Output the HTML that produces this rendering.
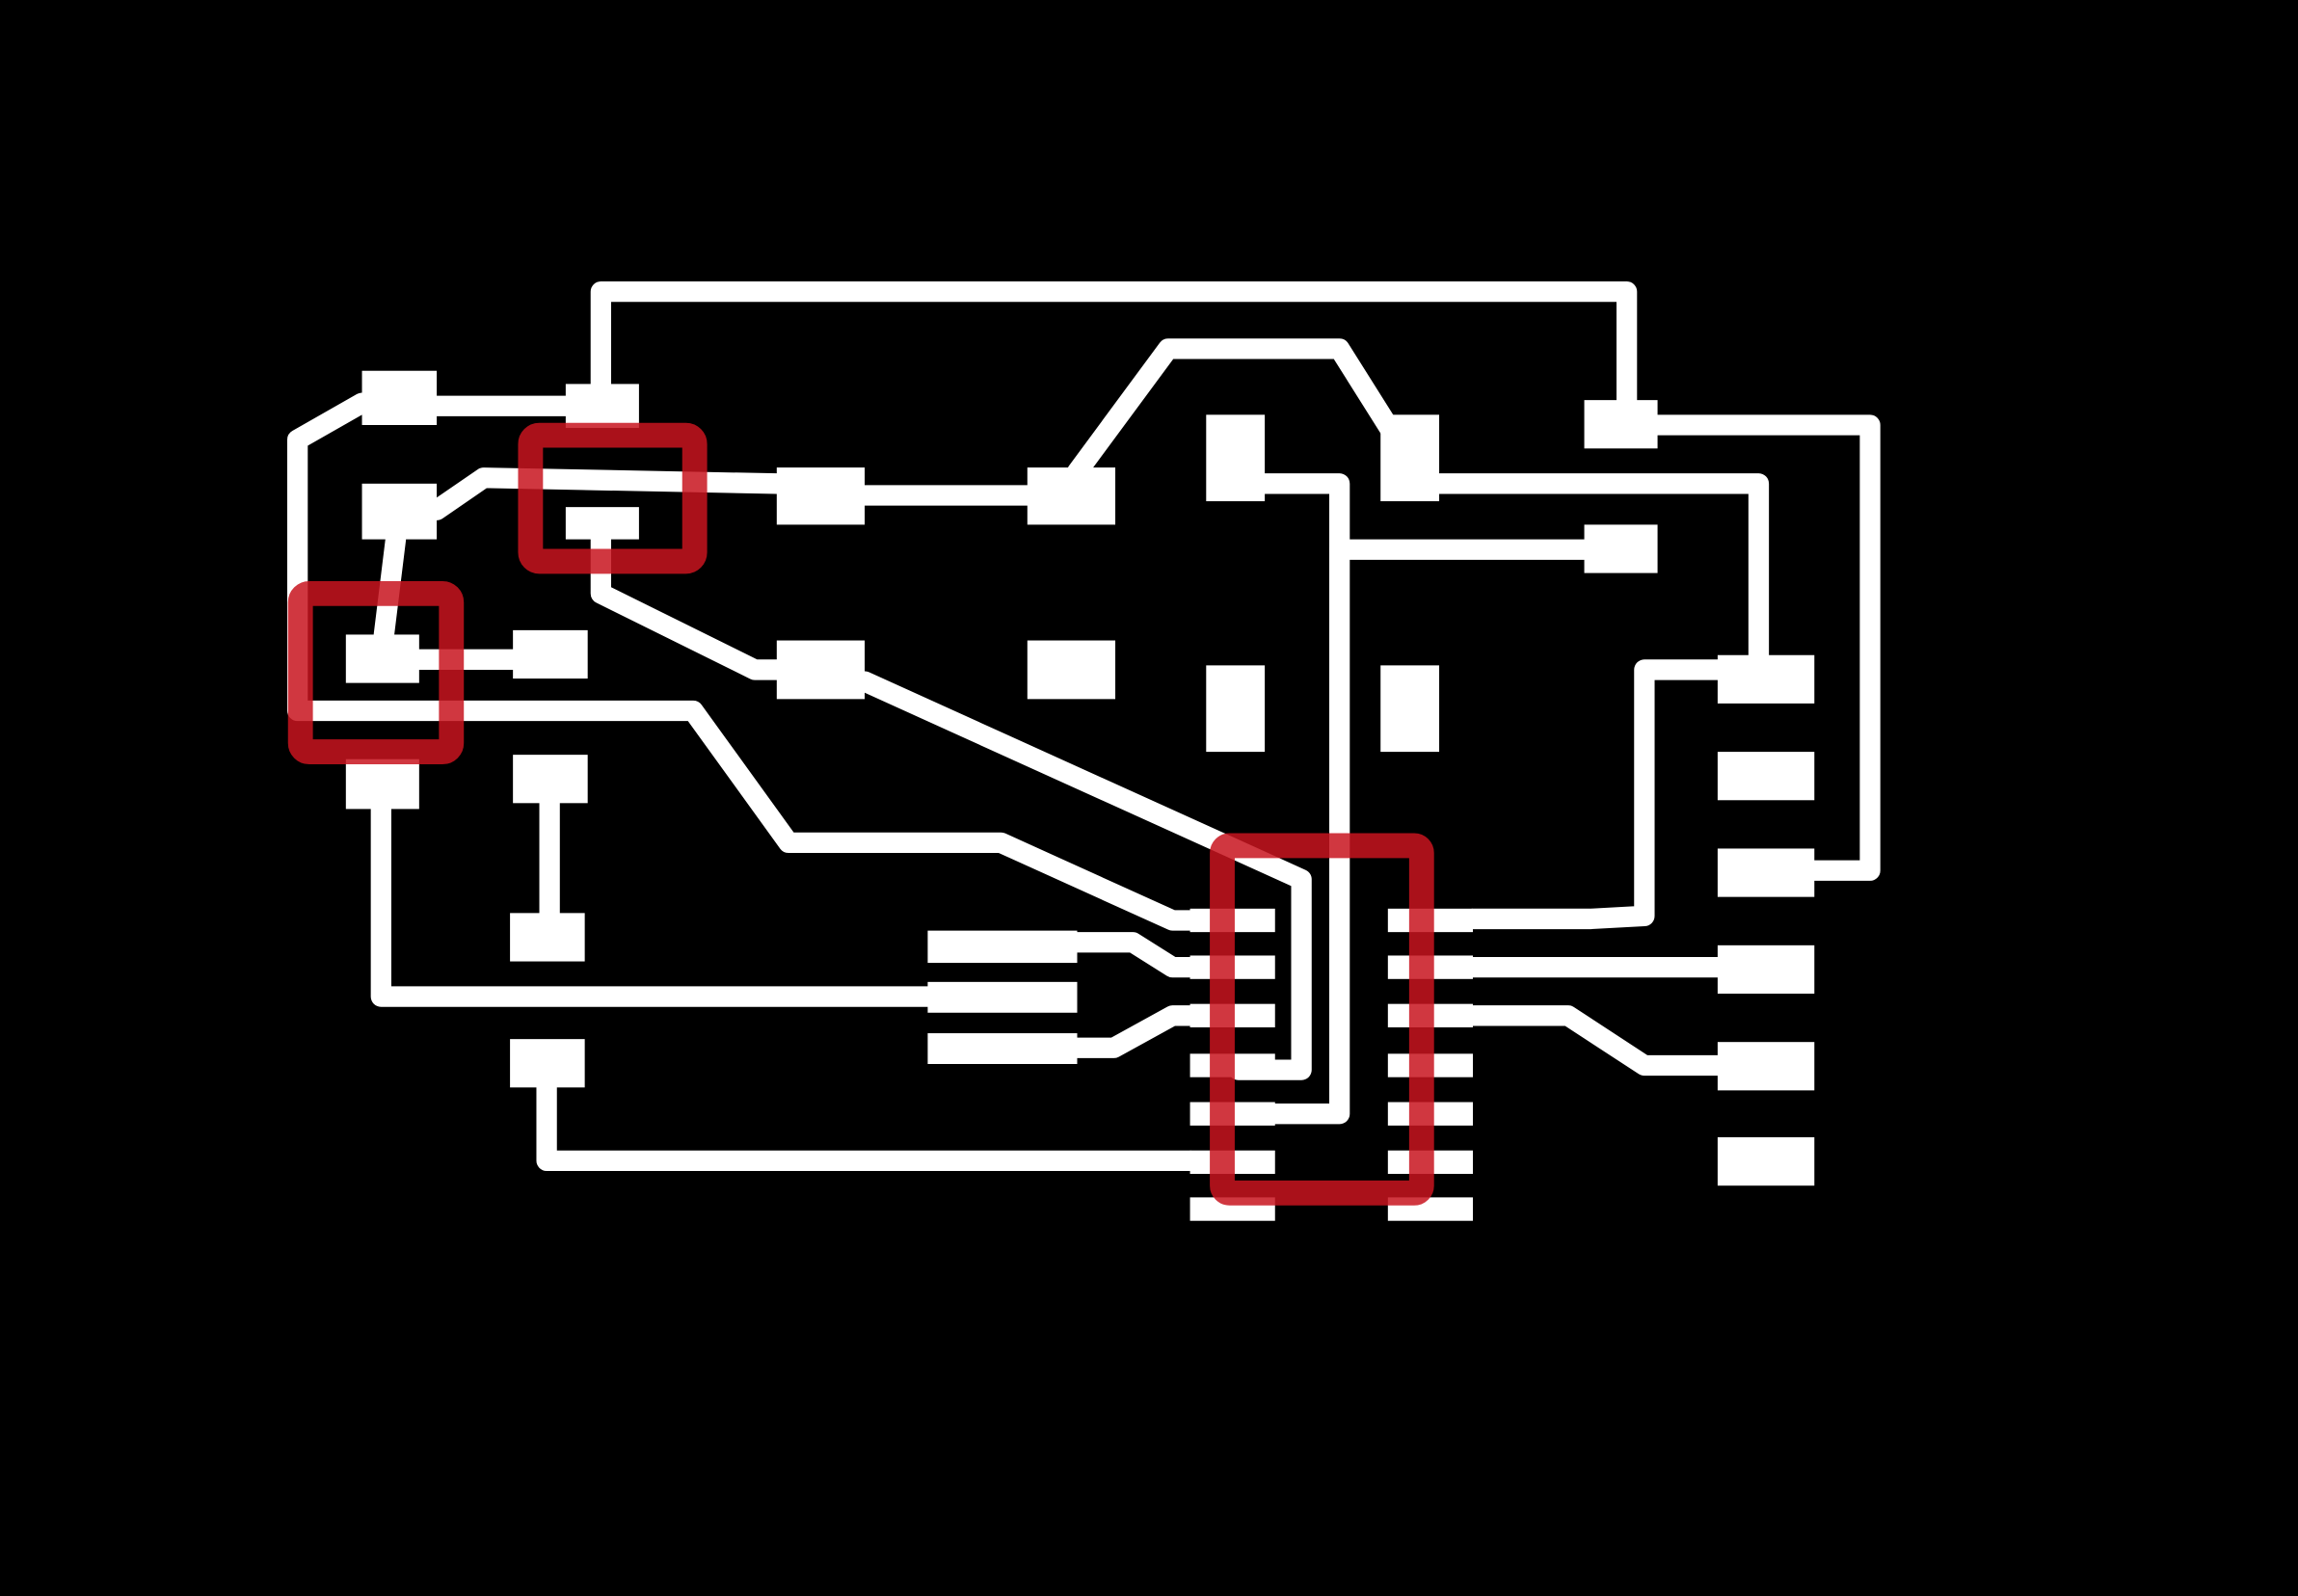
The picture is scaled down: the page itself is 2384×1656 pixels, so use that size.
<!DOCTYPE html>
<html><head><meta charset="utf-8"><style>
html,body{margin:0;padding:0;background:#000;width:2384px;height:1656px;overflow:hidden}
svg{display:block}
</style></head><body>
<svg width="2384" height="1656" viewBox="0 0 1568 1089" preserveAspectRatio="none" xmlns="http://www.w3.org/2000/svg">
<rect width="1568" height="1089" fill="#000"/>
<g fill="none" stroke="#fff" stroke-width="14" stroke-linejoin="round" stroke-linecap="round">
<polyline points="410,285 410,199 1110,199 1110,280"/>
<polyline points="1131,290 1276,290 1276,594 1238,594"/>
<polyline points="298,277 386,277"/>
<polyline points="247,275 203,300 203,485 473,485 538,575 683,575 800,628 812,628"/>
<polyline points="298,348 330,326 530,330"/>
<polyline points="590,338 701,338"/>
<polyline points="735,322 797,238 914,238 948,292"/>
<polyline points="982,330 1200,330 1200,450"/>
<polyline points="863,330 914,330 914,760 870,760"/>
<polyline points="914,375 1081,375"/>
<polyline points="410,368 410,405 515,457 530,457"/>
<polyline points="590,465 888,600 888,730 845,730"/>
<polyline points="270,368 262,433"/>
<polyline points="286,450 350,450"/>
<polyline points="260,552 260,680 633,680"/>
<polyline points="375,548 375,623"/>
<polyline points="373,742 373,792 812,792"/>
<polyline points="735,643 773,643 800,660 812,660"/>
<polyline points="735,715 760,715 800,693 812,693"/>
<polyline points="1005,627 1085,627 1122,625 1122,457 1172,457"/>
<polyline points="1005,660 1172,660"/>
<polyline points="1005,693 1070,693 1122,727 1172,727"/>
</g>
<g fill="#fff">
<rect x="247" y="253" width="51" height="37"/>
<rect x="386" y="262" width="50" height="30"/>
<rect x="247" y="330" width="51" height="38"/>
<rect x="386" y="346" width="50" height="22"/>
<rect x="530" y="319" width="60" height="39"/>
<rect x="701" y="319" width="60" height="39"/>
<rect x="823" y="283" width="40" height="59"/>
<rect x="942" y="283" width="40" height="59"/>
<rect x="1081" y="273" width="50" height="33"/>
<rect x="1081" y="358" width="50" height="33"/>
<rect x="236" y="433" width="50" height="33"/>
<rect x="350" y="430" width="51" height="33"/>
<rect x="530" y="437" width="60" height="40"/>
<rect x="701" y="437" width="60" height="40"/>
<rect x="823" y="454" width="40" height="59"/>
<rect x="942" y="454" width="40" height="59"/>
<rect x="236" y="518" width="50" height="34"/>
<rect x="350" y="515" width="51" height="33"/>
<rect x="348" y="623" width="51" height="33"/>
<rect x="348" y="709" width="51" height="33"/>
<rect x="1172" y="447" width="66" height="33"/>
<rect x="1172" y="513" width="66" height="33"/>
<rect x="1172" y="579" width="66" height="33"/>
<rect x="1172" y="645" width="66" height="33"/>
<rect x="1172" y="711" width="66" height="33"/>
<rect x="1172" y="776" width="66" height="33"/>
<rect x="633" y="635" width="102" height="22"/>
<rect x="633" y="670" width="102" height="21"/>
<rect x="633" y="705" width="102" height="21"/>
<rect x="812" y="620" width="58" height="16"/>
<rect x="812" y="652" width="58" height="16"/>
<rect x="812" y="685" width="58" height="16"/>
<rect x="812" y="719" width="58" height="16"/>
<rect x="812" y="752" width="58" height="16"/>
<rect x="812" y="785" width="58" height="16"/>
<rect x="812" y="817" width="58" height="16"/>
<rect x="947" y="620" width="58" height="16"/>
<rect x="947" y="652" width="58" height="16"/>
<rect x="947" y="685" width="58" height="16"/>
<rect x="947" y="719" width="58" height="16"/>
<rect x="947" y="752" width="58" height="16"/>
<rect x="947" y="785" width="58" height="16"/>
<rect x="947" y="817" width="58" height="16"/>
</g>
<g fill="none" stroke="#c8141e" stroke-opacity="0.85" stroke-width="17" stroke-linejoin="round" stroke-linecap="round">
<rect x="362" y="297" width="112" height="86" rx="6"/>
<rect x="205" y="405" width="103" height="108" rx="6"/>
<rect x="834" y="577" width="136" height="237" rx="5"/>
</g>
</svg>
</body></html>
